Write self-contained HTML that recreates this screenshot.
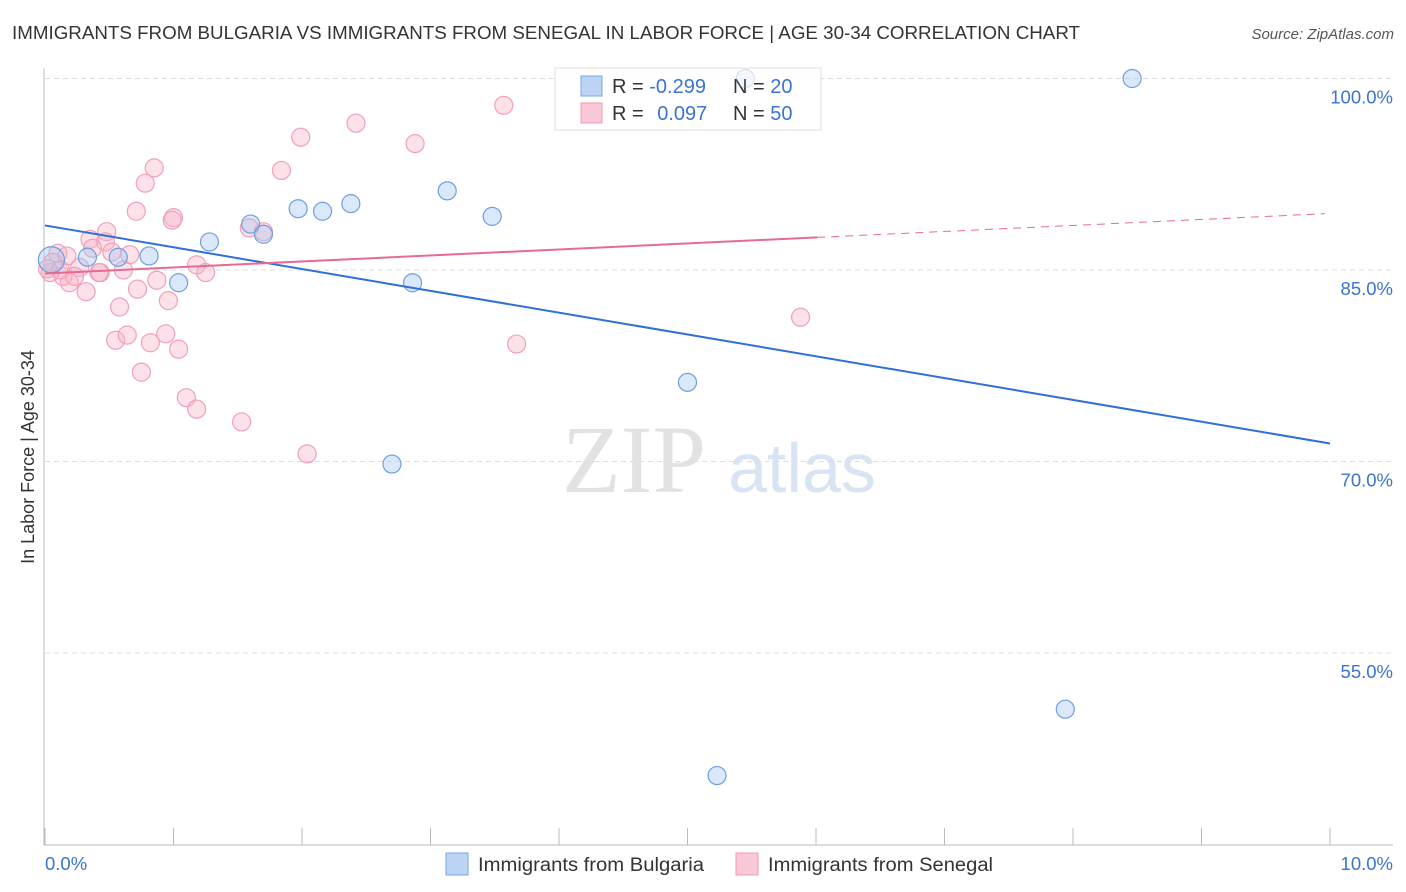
<!DOCTYPE html>
<html><head><meta charset="utf-8"><style>
body{margin:0;background:#fff;font-family:"Liberation Sans",sans-serif;}
svg{display:block}
</style></head><body>
<svg id="chart" width="1406" height="892">
<text x="12" y="39" font-size="18" fill="#333" textLength="1068" lengthAdjust="spacingAndGlyphs">IMMIGRANTS FROM BULGARIA VS IMMIGRANTS FROM SENEGAL IN LABOR FORCE | AGE 30-34 CORRELATION CHART</text>
<text x="1394" y="39" font-size="15" fill="#555" font-style="italic" text-anchor="end">Source: ZipAtlas.com</text>
<text x="634" y="492" font-size="96" fill="#e2e2e2" font-family="Liberation Serif,serif" text-anchor="middle">ZIP</text>
<text x="802" y="492" font-size="70" fill="#d8e4f4" text-anchor="middle">atlas</text>
<text transform="translate(34,457) rotate(-90)" font-size="18" fill="#333" text-anchor="middle">In Labor Force | Age 30-34</text>
<g id="grid"></g>
<g>
<rect x="555" y="68" width="266" height="62" fill="rgba(255,255,255,0.85)" stroke="#ddd"/>
<rect x="581" y="76" width="21" height="20" fill="#bcd4f4" stroke="#7aa6e4"/>
<rect x="581" y="103" width="21" height="20" fill="#f9c8d6" stroke="#f09ab4"/>
<text x="612" y="93" font-size="20" fill="#333">R = <tspan fill="#3b73d1">-0.299</tspan></text>
<text x="733" y="93" font-size="20" fill="#333">N = <tspan fill="#3b73d1">20</tspan></text>
<text x="612" y="120" font-size="20" fill="#333">R = <tspan fill="#3b73d1" dx="8">0.097</tspan></text>
<text x="733" y="120" font-size="20" fill="#333">N = <tspan fill="#3b73d1">50</tspan></text>
</g>
<g id="marks"></g><g id="trends"></g>
<rect x="446" y="853" width="22" height="22" fill="#bcd4f4" stroke="#7aa6e4"/>
<text x="478" y="871" font-size="19" fill="#333" textLength="226" lengthAdjust="spacingAndGlyphs">Immigrants from Bulgaria</text>
<rect x="736" y="853" width="22" height="22" fill="#f9c8d6" stroke="#f09ab4"/>
<text x="768" y="871" font-size="19" fill="#333" textLength="225" lengthAdjust="spacingAndGlyphs">Immigrants from Senegal</text>
</svg>
<script>
const yTicks=[100,85,70,55];
const yTickLabels=["100.0%","85.0%","70.0%","55.0%"];
const xTicks=[0,1,2,3,4,5,6,7,8,9,10];
const bulgariaX=[0.05,0.33,0.57,0.81,1.04,1.28,1.60,1.70,1.97,2.16,2.38,2.86,3.13,3.48,2.70,5.00,5.23,7.94,8.46,5.45];
const bulgariaY=[85.8,86.0,86.0,86.1,84.0,87.2,88.6,87.8,89.8,89.6,90.2,84.0,91.2,89.2,69.8,76.2,45.4,50.6,100.0,100.0];
const senegalX=[0.85,0.78,0.71,1.00,0.99,1.84,1.59,1.70,0.48,0.35,0.47,0.37,0.10,0.17,0.52,0.66,0.27,0.43,0.61,1.18,1.25,0.87,0.19,0.32,0.72,0.96,0.58,0.55,0.64,0.82,0.94,1.04,0.75,1.10,1.18,1.53,2.04,0.06,0.14,0.04,1.99,2.42,2.88,3.57,3.67,5.88,0.02,0.12,0.23,0.42];
const senegalY=[93.0,91.8,89.6,89.1,88.9,92.8,88.3,88.0,88.0,87.4,87.2,86.7,86.3,86.1,86.4,86.2,85.2,84.8,85.0,85.4,84.8,84.2,84.0,83.3,83.5,82.6,82.1,79.5,79.9,79.3,80.0,78.8,77.0,75.0,74.1,73.1,70.6,85.6,84.5,84.8,95.4,96.5,94.9,97.9,79.2,81.3,85.1,85.0,84.5,84.8];
const trendBulgaria=[88.49,71.41];
const trendSenegal=[84.73,89.43];
const senegalSolidEnd=6.01;

const X=v=>45+v*128.5, Y=v=>78.5+(100-v)*191.5/15;
const NS="http://www.w3.org/2000/svg";
function mk(tag,attrs,parent){const e=document.createElementNS(NS,tag);for(const k in attrs)e.setAttribute(k,attrs[k]);parent.appendChild(e);return e;}
const grid=document.getElementById('grid'),marks=document.getElementById('marks'),trends=document.getElementById('trends');
yTicks.forEach((t,i)=>{
 const l=mk('line',{x1:45,x2:1393,y1:Y(t),y2:Y(t),stroke:'#ddd','stroke-dasharray':'5,4'},grid);
 
 
 const tx=mk('text',{x:1393,y:Y(t)+25,'font-size':18.5,fill:'#3b73d1','text-anchor':'end'},grid);
 tx.textContent=yTickLabels[i];
 
 
});
const ax=mk('line',{x1:44,x2:44,y1:68,y2:845,stroke:'#bbb'},grid);


const bx=mk('line',{x1:44,x2:1393,y1:845,y2:845,stroke:'#bbb'},grid);


xTicks.forEach(t=>{
 const l=mk('line',{x1:X(t),x2:X(t),y1:828,y2:845,stroke:'#bbb'},grid);
 
 
});
const x0=mk('text',{x:45,y:870,'font-size':18.5,fill:'#3b73d1'},grid);x0.textContent="0.0%";


const x1=mk('text',{x:1393,y:870,'font-size':18.5,fill:'#3b73d1','text-anchor':'end'},grid);x1.textContent="10.0%";


senegalX.forEach((v,i)=>{
 const c=mk('circle',{cx:X(v),cy:Y(senegalY[i]),r:9,fill:'rgba(248,180,200,0.4)',stroke:'#f0a0ba','stroke-width':1.2},marks);
 
 
});
bulgariaX.forEach((v,i)=>{
 const c=mk('circle',{cx:X(v),cy:Y(bulgariaY[i]),r:i===0?13:9,fill:'rgba(165,198,240,0.4)',stroke:'#6c9fe0','stroke-width':1.2,'stroke-opacity':i===19?0.3:1,'fill-opacity':i===19?0.3:1},marks);
 
 
});
const tb=mk('line',{x1:X(0),y1:Y(trendBulgaria[0]),x2:X(10),y2:Y(trendBulgaria[1]),stroke:'#2f6fd6','stroke-width':2},trends);


const sy=v=>trendSenegal[0]+(trendSenegal[1]-trendSenegal[0])*v/10;
const ts=mk('line',{x1:X(0),y1:Y(sy(0)),x2:X(senegalSolidEnd),y2:Y(sy(senegalSolidEnd)),stroke:'#e86a93','stroke-width':2},trends);


const td=mk('line',{x1:X(senegalSolidEnd),y1:Y(sy(senegalSolidEnd)),x2:X(9.96),y2:Y(sy(9.96)),stroke:'#e86a93','stroke-width':1,'stroke-dasharray':'8,6'},trends);


</script>
</body></html>
